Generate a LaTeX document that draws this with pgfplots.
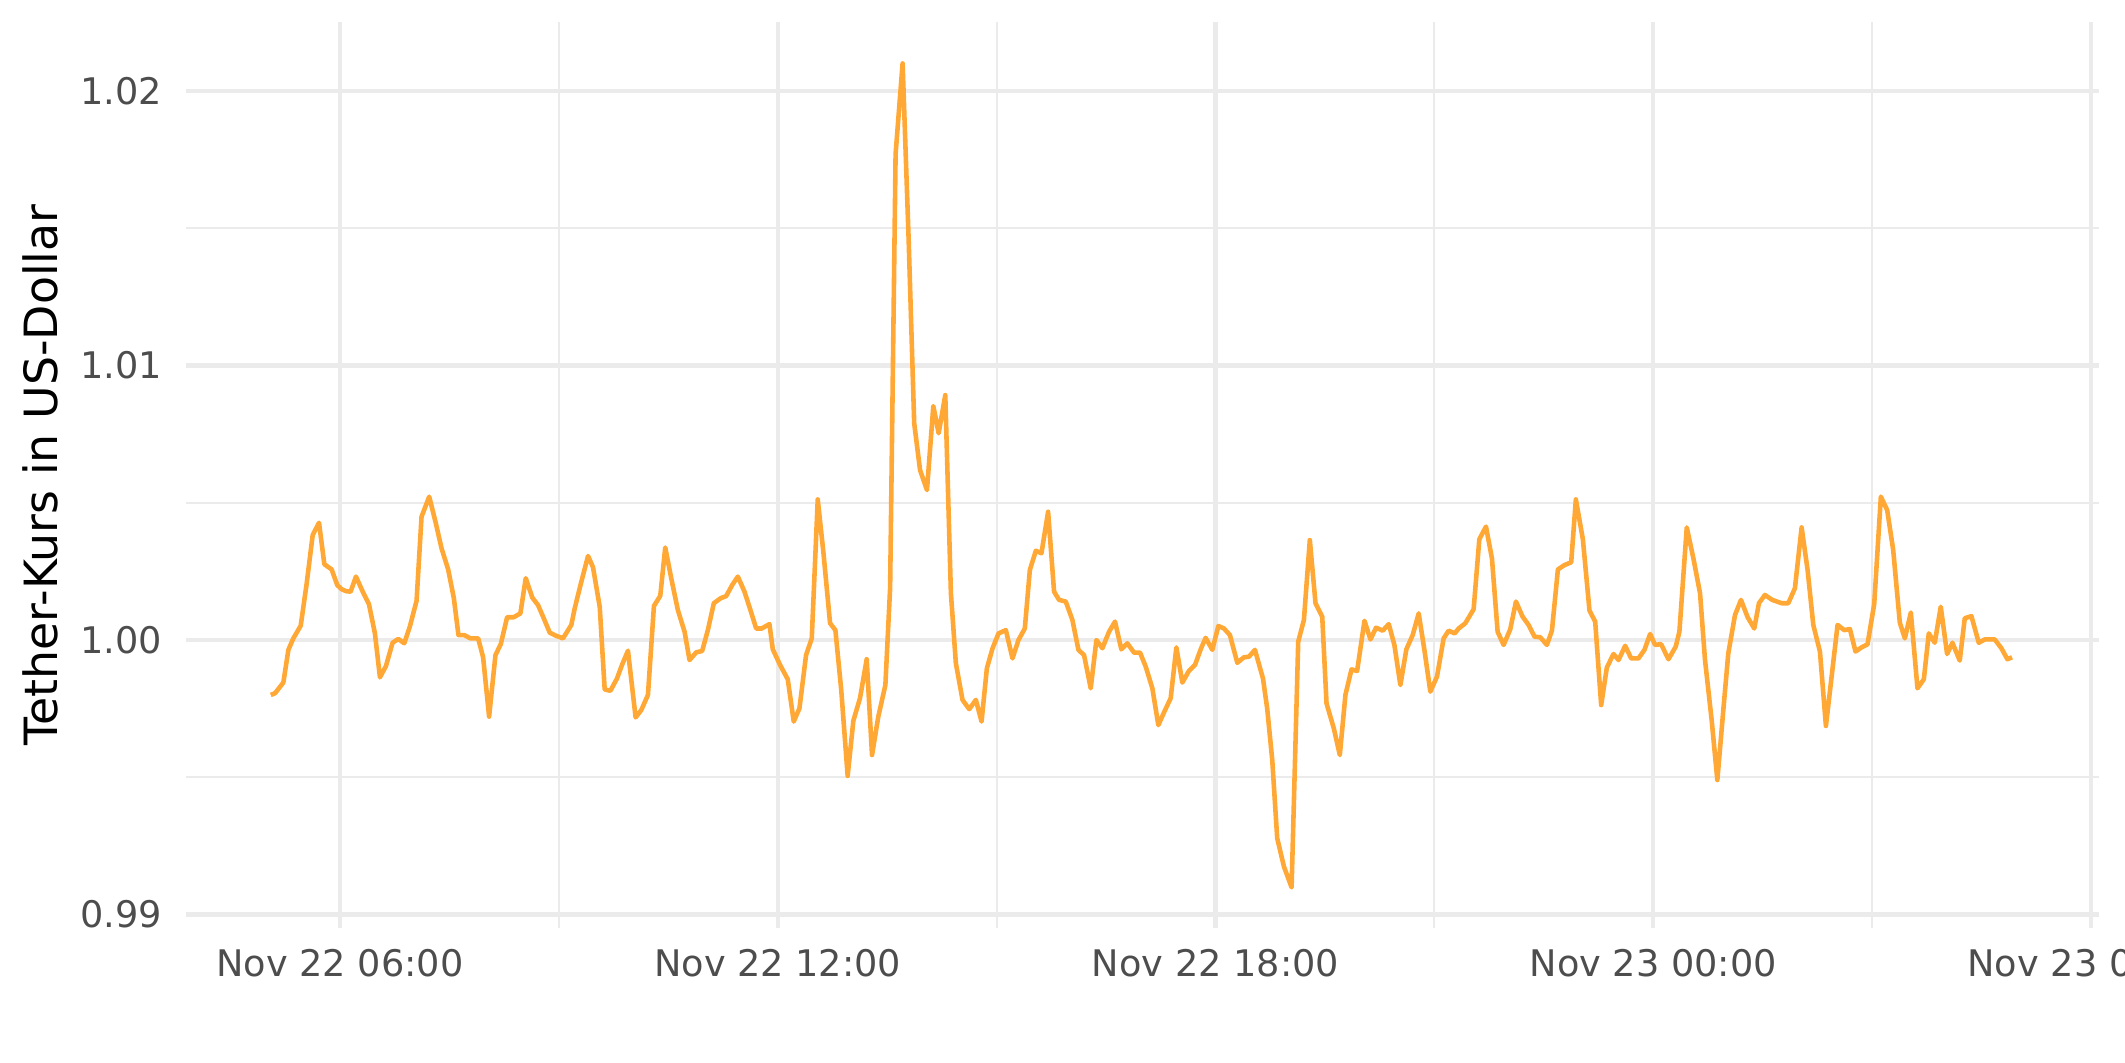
\documentclass[border=0pt]{standalone}
\usepackage{pgfplots}
\pgfplotsset{compat=1.18}
\usepackage{fontspec}
\setmainfont{DejaVu Sans}
\definecolor{gridc}{HTML}{EBEBEB}
\definecolor{tickc}{HTML}{4D4D4D}
\definecolor{linec}{HTML}{FFA836}
\begin{document}
\begin{tikzpicture}
\begin{axis}[
  name=ax, at={(0,0)}, anchor=south west,
  scale only axis, width=459.1pt, height=217.46pt,
  xmin=3.891, xmax=30.108, ymin=0.9895, ymax=1.0225,
  axis line style={draw=none}, tick style={draw=none},
  major tick length=0pt, minor tick length=0pt,
  xtick={6,12,18,24,30},
  xticklabels={Nov 22 06:00,Nov 22 12:00,Nov 22 18:00,Nov 23 00:00,Nov 23 06:00},
  minor xtick={9,15,21,27},
  ytick={0.99,1.00,1.01,1.02},
  yticklabels={0.99,1.00,1.01,1.02},
  minor ytick={0.995,1.005,1.015},
  grid=both,
  major grid style={color=gridc, line width=1.0pt},
  minor grid style={color=gridc, line width=0.5pt},
  xticklabel style={font=\fontsize{8.8}{10}\selectfont, text=tickc, anchor=north, inner sep=0pt, yshift=-4.95pt},
  yticklabel style={font=\fontsize{8.8}{10}\selectfont, text=tickc, anchor=east, inner sep=0pt, xshift=-5.6pt},
  ylabel={Tether-Kurs in US-Dollar},
  ylabel style={font=\fontsize{11}{13}\selectfont, at={(axis description cs:0,0.5)}, anchor=center, inner sep=0pt, yshift=34.96pt},
]
\addplot[color=linec, line width=1.1pt, line join=round] table {
5.051 0.99800
5.110 0.99806
5.224 0.99845
5.293 0.99964
5.361 1.00006
5.462 1.00052
5.544 1.00206
5.626 1.00382
5.713 1.00427
5.786 1.00276
5.886 1.00257
5.963 1.00200
6.023 1.00185
6.082 1.00178
6.146 1.00176
6.219 1.00231
6.319 1.00172
6.397 1.00131
6.479 1.00024
6.548 0.99864
6.630 0.99905
6.721 0.99990
6.799 1.00004
6.881 0.99988
6.958 1.00049
7.050 1.00143
7.118 1.00449
7.223 1.00522
7.314 1.00425
7.392 1.00334
7.483 1.00257
7.561 1.00152
7.624 1.00018
7.702 1.00018
7.789 1.00006
7.894 1.00006
7.962 0.99937
8.044 0.99721
8.131 0.99945
8.204 0.99985
8.291 1.00083
8.382 1.00083
8.473 1.00097
8.546 1.00225
8.637 1.00154
8.715 1.00127
8.793 1.00079
8.875 1.00027
8.966 1.00015
9.057 1.00006
9.171 1.00055
9.217 1.00115
9.308 1.00212
9.400 1.00306
9.468 1.00265
9.560 1.00121
9.628 0.99820
9.706 0.99815
9.797 0.99860
9.865 0.99909
9.947 0.99961
10.052 0.99718
10.130 0.99745
10.221 0.99800
10.303 1.00124
10.390 1.00161
10.458 1.00337
10.540 1.00225
10.631 1.00109
10.723 1.00030
10.791 0.99927
10.882 0.99955
10.964 0.99960
11.042 1.00036
11.124 1.00134
11.216 1.00152
11.293 1.00160
11.375 1.00200
11.453 1.00231
11.544 1.00176
11.622 1.00112
11.704 1.00042
11.781 1.00042
11.886 1.00058
11.932 0.99966
12.032 0.99909
12.137 0.99857
12.219 0.99703
12.297 0.99751
12.388 0.99945
12.466 1.00006
12.548 1.00512
12.626 1.00318
12.717 1.00061
12.790 1.00036
12.870 0.99818
12.958 0.99505
13.036 0.99706
13.127 0.99788
13.219 0.99930
13.292 0.99581
13.378 0.99721
13.475 0.99836
13.540 1.00190
13.615 1.01770
13.711 1.02100
13.794 1.01457
13.870 1.00789
13.950 1.00619
14.045 1.00546
14.132 1.00852
14.205 1.00753
14.296 1.00892
14.373 1.00170
14.441 0.99915
14.532 0.99782
14.624 0.99748
14.715 0.99782
14.793 0.99703
14.866 0.99897
14.944 0.99970
15.026 1.00024
15.126 1.00036
15.217 0.99933
15.299 1.00000
15.386 1.00042
15.455 1.00255
15.537 1.00325
15.614 1.00316
15.705 1.00467
15.787 1.00176
15.856 1.00146
15.947 1.00140
16.038 1.00073
16.121 0.99964
16.198 0.99945
16.289 0.99824
16.367 1.00000
16.449 0.99970
16.540 1.00030
16.622 1.00067
16.709 0.99966
16.791 0.99988
16.883 0.99954
16.965 0.99954
17.043 0.99903
17.134 0.99824
17.216 0.99690
17.300 0.99740
17.385 0.99788
17.463 0.99973
17.545 0.99845
17.636 0.99888
17.718 0.99909
17.796 0.99966
17.864 1.00008
17.956 0.99964
18.038 1.00051
18.115 1.00042
18.197 1.00018
18.298 0.99917
18.389 0.99937
18.457 0.99939
18.540 0.99964
18.650 0.99860
18.708 0.99750
18.777 0.99563
18.845 0.99278
18.937 0.99175
19.042 0.99099
19.133 0.99994
19.211 1.00073
19.292 1.00364
19.370 1.00134
19.462 1.00085
19.521 0.99769
19.621 0.99678
19.703 0.99581
19.780 0.99800
19.863 0.99893
19.940 0.99887
20.041 1.00070
20.123 1.00002
20.200 1.00045
20.291 1.00034
20.374 1.00058
20.451 0.99982
20.533 0.99836
20.615 0.99966
20.702 1.00018
20.784 1.00097
20.862 0.99964
20.944 0.99812
21.035 0.99867
21.126 1.00006
21.195 1.00034
21.277 1.00024
21.332 1.00042
21.423 1.00061
21.537 1.00112
21.615 1.00367
21.706 1.00413
21.788 1.00297
21.866 1.00030
21.948 0.99982
22.039 1.00039
22.117 1.00140
22.208 1.00085
22.290 1.00055
22.372 1.00012
22.450 1.00010
22.541 0.99982
22.610 1.00034
22.692 1.00257
22.783 1.00273
22.874 1.00283
22.938 1.00512
23.034 1.00367
23.125 1.00107
23.203 1.00067
23.285 0.99763
23.363 0.99900
23.454 0.99949
23.523 0.99927
23.614 0.99979
23.696 0.99933
23.796 0.99933
23.878 0.99964
23.956 1.00022
24.024 0.99982
24.106 0.99985
24.207 0.99930
24.307 0.99976
24.357 1.00030
24.458 1.00410
24.549 1.00297
24.640 1.00170
24.708 0.99927
24.799 0.99709
24.877 0.99490
24.959 0.99745
25.027 0.99951
25.119 1.00091
25.201 1.00146
25.292 1.00083
25.383 1.00042
25.447 1.00134
25.529 1.00164
25.630 1.00146
25.758 1.00134
25.849 1.00134
25.940 1.00188
26.032 1.00410
26.114 1.00255
26.192 1.00055
26.283 0.99958
26.365 0.99687
26.443 0.99866
26.525 1.00055
26.616 1.00036
26.694 1.00040
26.771 0.99958
26.853 0.99973
26.935 0.99984
27.027 1.00131
27.118 1.00522
27.205 1.00473
27.287 1.00328
27.378 1.00063
27.447 1.00006
27.529 1.00100
27.620 0.99824
27.707 0.99857
27.775 1.00024
27.857 0.99990
27.939 1.00121
28.026 0.99949
28.099 0.99990
28.199 0.99925
28.268 1.00079
28.359 1.00087
28.460 0.99990
28.542 1.00002
28.679 1.00002
28.770 0.99970
28.852 0.99930
28.916 0.99937
};
\end{axis}
\pgfresetboundingbox
\path ([shift={(-44.66pt,-32.09pt)}]ax.south west) rectangle ([shift={(6.24pt,5.33pt)}]ax.north east);
\end{tikzpicture}
\end{document}
